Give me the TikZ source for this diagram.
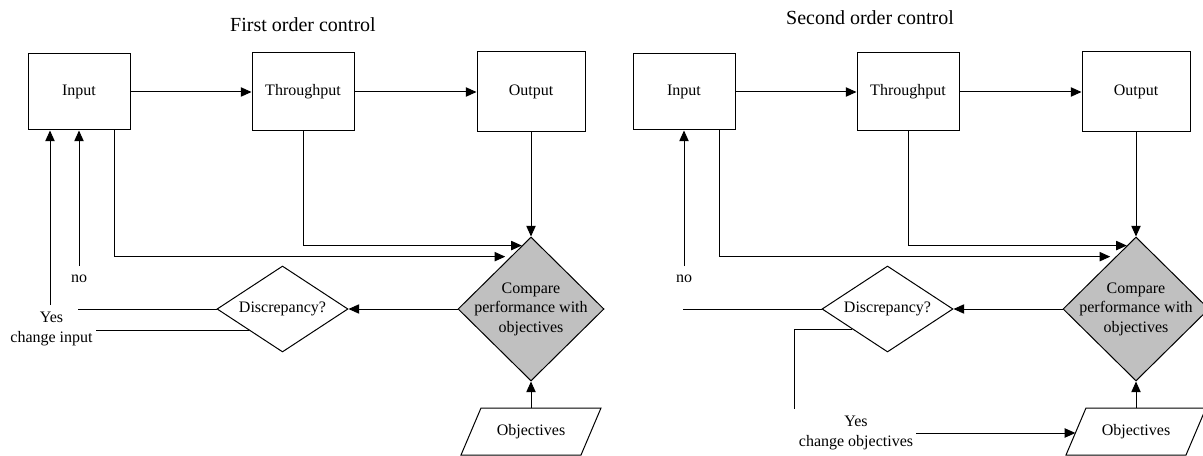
\documentclass[tikz,border=0pt]{standalone}
\usepackage{fontspec}
\setmainfont{Liberation Serif}
\usetikzlibrary{shapes.geometric,arrows.meta,calc}
\definecolor{cmpgray}{HTML}{C0C0C0}
\begin{document}
\begin{tikzpicture}[x=0.75pt,y=-0.75pt,
  every node/.style={font=\fontsize{12}{14.4}\selectfont},
  line width=0.75pt,
  titletext/.style={font=\fontsize{15}{18}\selectfont},
  procbox/.style={draw, rectangle, inner sep=0pt, minimum width=76.5pt},
  discbox/.style={draw, diamond, inner sep=0pt, minimum width=98.25pt, minimum height=64.5pt},
  cmpbox/.style={draw, diamond, fill=cmpgray, inner sep=0pt, minimum width=109.5pt, minimum height=108pt},
  objbox/.style={rectangle, inner sep=0pt, outer sep=0pt, minimum width=75pt, minimum height=35.25pt},
  arr/.style={-{Triangle[length=8pt,width=7pt]}},
  lbl/.style={align=center, inner sep=2pt}
]
\useasboundingbox (0,0) rectangle (1203,456);
\fill[white] (0,0) rectangle (1203,456);
\clip (0,0) rectangle (1203,456);

% ---------------- First order control ----------------
\node[titletext] (title1) at (303,25) {First order control};
\node[procbox, minimum height=57pt] (in1) at (79,92) {Input};
\node[procbox, minimum height=58.5pt] (th1) at (303,92) {Throughput};
\node[procbox, minimum width=81pt, minimum height=60pt] (out1) at (531,92) {Output};
\node[cmpbox] (cmp1) at (531,309) {\makebox[0pt]{\begin{tabular}{@{}c@{}}Compare\\performance with\\objectives\end{tabular}}};
\node[discbox] (dis1) at (282.5,309) {\makebox[0pt]{Discrepancy?}};
\node[objbox] (obj1) at (531,431.5) {Objectives};
\draw (obj1.north west) -- ($(obj1.north east)+(20,0)$) -- (obj1.south east) -- ($(obj1.south west)+(-20,0)$) -- cycle;

\node[lbl] (no1) at (79,279) {no};
\node[lbl] (yes1) at (51.5,329) {Yes\\change input};

\draw[arr] (in1.east) -- (th1.west);
\draw[arr] (th1.east) -- (out1.west);
\draw[arr] (out1.south) -- (cmp1.north);
\coordinate (c1a) at ($(cmp1.north)!0.125!(cmp1.west)$);
\coordinate (c1b) at ($(cmp1.north)!0.278!(cmp1.west)$);
\draw[arr] (th1.south) |- (c1a);
\draw[arr, shorten >=4pt] ($(in1.south east)+(-16,0)$) |- (c1b);
\coordinate (y1top) at (50,305);
\draw[arr] (y1top) -- (y1top |- in1.south);
\coordinate (n1top) at (79,266);
\draw[arr] (n1top) -- (in1.south);
\coordinate (d1a) at (78,309);
\draw (d1a) -- (dis1.west);
\coordinate (d1b) at ($(dis1.west)!0.488!(dis1.south)$);
\coordinate (d1c) at (96,0);
\draw (d1b) -- (d1b -| d1c);
\draw[arr] (cmp1.west) -- (dis1.east);
\draw[arr] (obj1.north) -- (cmp1.south);

% ---------------- Second order control ----------------
\node[titletext] (title2) at (870,18) {Second order control};
\node[procbox, minimum height=57pt] (in2) at (684,92) {Input};
\node[procbox, minimum height=58.5pt] (th2) at (908,92) {Throughput};
\node[procbox, minimum width=81pt, minimum height=60pt] (out2) at (1136,92) {Output};
\node[cmpbox] (cmp2) at (1136,309) {\makebox[0pt]{\begin{tabular}{@{}c@{}}Compare\\performance with\\objectives\end{tabular}}};
\node[discbox] (dis2) at (887.5,309) {\makebox[0pt]{Discrepancy?}};
\node[objbox] (obj2) at (1136,431.5) {Objectives};
\coordinate (obj2bl) at ($(obj2.south west)+(-20,0)$);
\draw (obj2.north west) -- ($(obj2.north east)+(20,0)$) -- (obj2.south east) -- (obj2bl) -- cycle;

\node[lbl] (no2) at (684,279) {no};
\node[lbl] (yes2) at (856,433) {Yes\\change objectives};

\draw[arr] (in2.east) -- (th2.west);
\draw[arr] (th2.east) -- (out2.west);
\draw[arr] (out2.south) -- (cmp2.north);
\coordinate (c2a) at ($(cmp2.north)!0.125!(cmp2.west)$);
\coordinate (c2b) at ($(cmp2.north)!0.278!(cmp2.west)$);
\draw[arr] (th2.south) |- (c2a);
\draw[arr, shorten >=4pt] ($(in2.south east)+(-16,0)$) |- (c2b);
\coordinate (n2top) at (684,266);
\draw[arr] (n2top) -- (in2.south);
\coordinate (d2a) at (683,309);
\draw (d2a) -- (dis2.west);
\coordinate (d2b) at ($(dis2.west)!0.465!(dis2.south)$);
\coordinate (d2c) at (794,409);
\draw (d2b) -| (d2c);
\draw[arr] (cmp2.west) -- (dis2.east);
\coordinate (e2) at ($(obj2.north west)!0.532!(obj2bl)$);
\draw[arr] (yes2.east) -- (yes2.east -| e2);
\draw[arr] (obj2.north) -- (cmp2.south);
\end{tikzpicture}
\end{document}
